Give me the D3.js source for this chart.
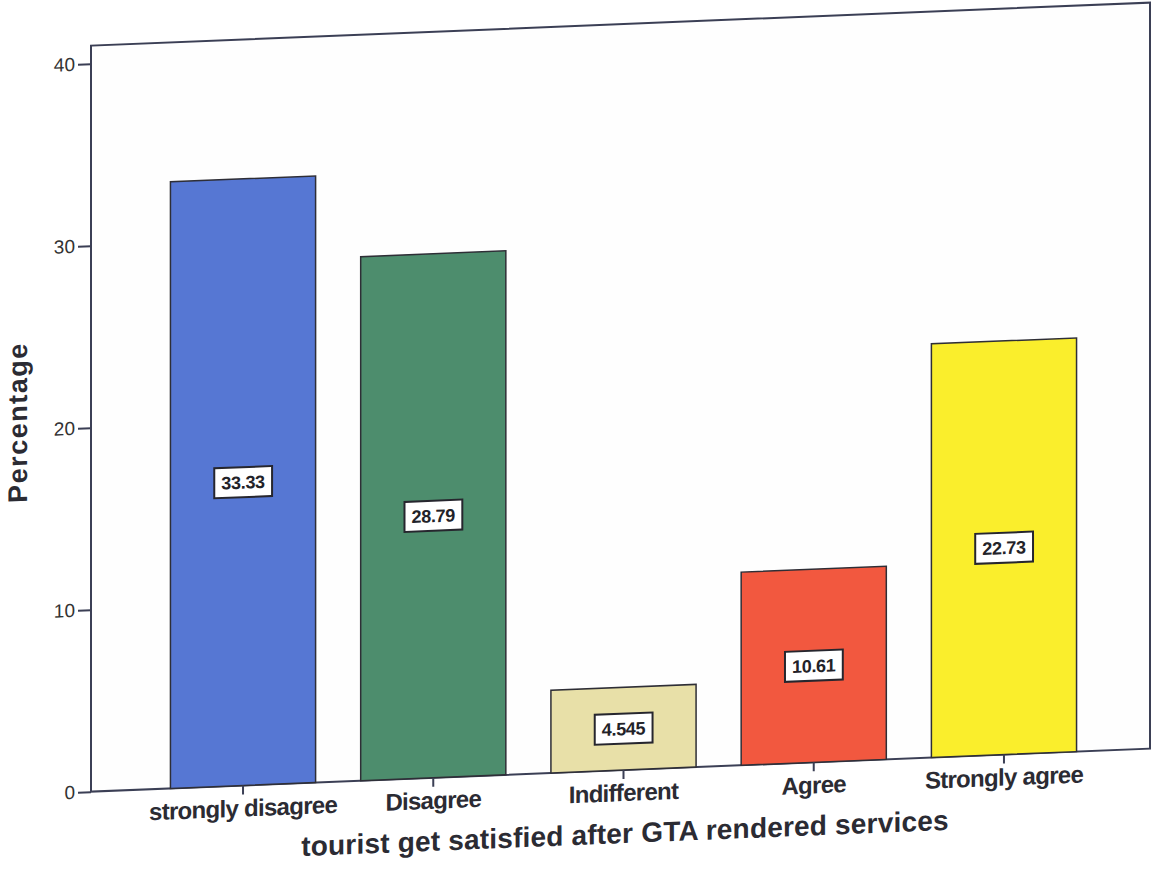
<!DOCTYPE html>
<html>
<head>
<meta charset="utf-8">
<script src="https://cdn.jsdelivr.net/npm/d3@7"></script>
<style>
  html, body { margin: 0; padding: 0; background: #ffffff; }
  svg { display: block; }
  text { font-family: "Liberation Sans", Arial, sans-serif; }
</style>
</head>
<body>
<svg id="chart" width="1155" height="873"></svg>
<script>
const categories = ["strongly disagree", "Disagree", "Indifferent", "Agree", "Strongly agree"];
const values = [33.33, 28.79, 4.545, 10.61, 22.73];
const valueLabels = ["33.33", "28.79", "4.545", "10.61", "22.73"];
const barColors = ["#5677d3", "#4d8d6d", "#e8e0a8", "#f2583f", "#faee2c"];
const yTicks = [0, 10, 20, 30, 40];
const xTitle = "tourist get satisfied after GTA rendered services";
const yTitle = "Percentage";

const W = 1155, H = 873;
const frame = { left: 91, right: 1150, top: 24, bottom: 770 };
const skew = -0.0406, pivotX = 624;

const svg = d3.select("#chart");
svg.append("rect").attr("width", W).attr("height", H).attr("fill", "#ffffff");

const g = svg.append("g")
  .attr("transform", `matrix(1, ${skew}, 0, 1, 0, ${-skew * pivotX})`);

const x = d3.scaleBand()
  .domain(categories)
  .range([148, 1099])
  .paddingInner(0.237)
  .paddingOuter(0.118);

const y = d3.scaleLinear()
  .domain([0, 40])
  .range([frame.bottom, frame.bottom - 728]);

// plot frame
g.append("rect")
  .attr("x", frame.left).attr("y", frame.top)
  .attr("width", frame.right - frame.left).attr("height", frame.bottom - frame.top)
  .attr("fill", "#fefefe")
  .attr("stroke", "#3b3f55").attr("stroke-width", 2);

// bars
g.selectAll("rect.bar")
  .data(categories)
  .enter().append("rect")
  .attr("class", "bar")
  .attr("x", d => x(d))
  .attr("width", x.bandwidth())
  .attr("y", (d, i) => y(values[i]))
  .attr("height", (d, i) => y(0) - y(values[i]))
  .attr("fill", (d, i) => barColors[i])
  .attr("stroke", "#2e2e36").attr("stroke-width", 1.5);

// y axis
const yAxis = g.append("g")
  .attr("transform", `translate(${frame.left},0)`)
  .call(d3.axisLeft(y).tickValues(yTicks).tickSize(13).tickPadding(3).tickFormat(d3.format("d")));
yAxis.select(".domain").remove();
yAxis.selectAll(".tick line").attr("stroke", "#3b3f55").attr("stroke-width", 2);
yAxis.selectAll(".tick text")
  .attr("fill", "#333333")
  .style("font-size", "19px");

// x axis
const xAxis = g.append("g")
  .attr("transform", `translate(0,${frame.bottom})`)
  .call(d3.axisBottom(x).tickSize(9).tickPadding(5));
xAxis.select(".domain").remove();
xAxis.selectAll(".tick line").attr("stroke", "#3b3f55").attr("stroke-width", 2);
xAxis.selectAll(".tick text")
  .attr("fill", "#2b2b33")
  .style("font-size", "24px")
  .style("font-weight", "bold")
  .style("letter-spacing", "-0.7px");

// value labels
const lab = g.selectAll("g.vlab")
  .data(categories)
  .enter().append("g")
  .attr("class", "vlab")
  .attr("transform", (d, i) => `translate(${x(d) + x.bandwidth() / 2},${y(values[i] / 2)})`);
lab.append("rect").attr("class", "box");
lab.append("text")
  .text((d, i) => valueLabels[i])
  .attr("text-anchor", "middle")
  .attr("dy", "0.36em")
  .attr("fill", "#222228")
  .style("font-size", "18px")
  .style("font-weight", "bold")
  .style("letter-spacing", "-0.3px");
lab.each(function () {
  const t = d3.select(this).select("text").node().getBBox();
  d3.select(this).select("rect.box")
    .attr("x", t.x - 7).attr("y", -15)
    .attr("width", t.width + 14).attr("height", 30)
    .attr("fill", "#ffffff")
    .attr("stroke", "#26262e").attr("stroke-width", 2);
});

// axis titles
g.append("text")
  .attr("x", 625).attr("y", frame.bottom + 73)
  .attr("text-anchor", "middle")
  .attr("fill", "#2b2b33")
  .style("font-size", "28px")
  .style("font-weight", "bold")
  .style("letter-spacing", "0.2px")
  .text(xTitle);

g.append("text")
  .attr("transform", `translate(27,398) rotate(-90)`)
  .attr("text-anchor", "middle")
  .attr("fill", "#2b2b33")
  .style("font-size", "27px")
  .style("font-weight", "bold")
  .style("letter-spacing", "1.5px")
  .text(yTitle);
</script>
</body>
</html>
